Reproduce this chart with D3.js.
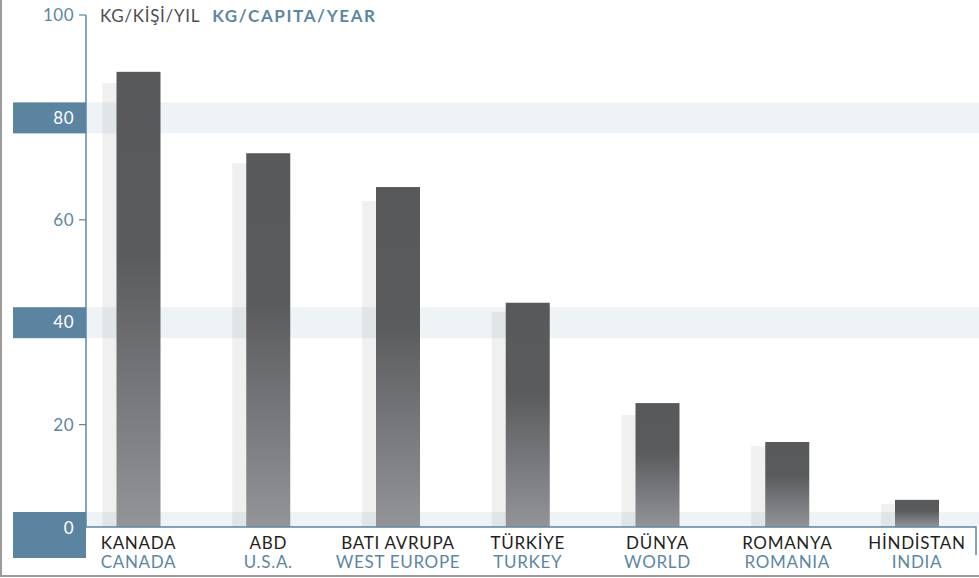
<!DOCTYPE html>
<html>
<head>
<meta charset="utf-8">
<script src="https://cdn.jsdelivr.net/npm/d3@7"></script>
<style>
body { margin: 0; background: #fff; }
svg { display: block; font-family: Lato, "Open Sans", sans-serif; }
</style>
</head>
<body>
<svg id="chart" width="979" height="578"></svg>
<script>
// data (kg per capita per year)
var namesTr = ['KANADA', 'ABD', 'BATI AVRUPA', 'TÜRKİYE', 'DÜNYA', 'ROMANYA', 'HİNDİSTAN'];
var namesEn = ['CANADA', 'U.S.A.', 'WEST EUROPE', 'TURKEY', 'WORLD', 'ROMANIA', 'INDIA'];
var values = [88.9, 73.0, 66.4, 43.8, 24.2, 16.6, 5.3];
var shadowValues = [86.7, 71.1, 63.7, 42.0, 21.9, 15.8, 4.5];
var yTicks = [0, 20, 40, 60, 80, 100];
var boxTicks = [0, 40, 80];

var blue = '#5b87a3';
var svg = d3.select('#chart');

var y = d3.scaleLinear().domain([0, 100]).range([527, 15]);
var x = d3.scalePoint().domain(namesTr).range([138.5, 917]);
var barW = 44;

var defs = svg.append('defs');
var grad = defs.append('linearGradient')
	.attr('id', 'barGrad')
	.attr('x1', 0).attr('y1', 0).attr('x2', 0).attr('y2', 1);
grad.append('stop').attr('offset', 0).attr('stop-color', '#58595b');
grad.append('stop').attr('offset', 0.4).attr('stop-color', '#5a5b5d');
grad.append('stop').attr('offset', 1).attr('stop-color', '#939498');

// outer frame
svg.append('line').attr('x1', 1).attr('x2', 1).attr('y1', 0).attr('y2', 577)
	.style('stroke', '#9b9b9b').style('stroke-width', 2);
svg.append('line').attr('x1', 0).attr('x2', 979).attr('y1', 576).attr('y2', 576)
	.style('stroke', '#9b9b9b').style('stroke-width', 2);

// shadow bars
svg.append('g').selectAll('rect')
	.data(shadowValues)
	.enter().append('rect')
	.attr('x', function(d, i) { return x(namesTr[i]) - barW / 2 - 14; })
	.attr('width', barW)
	.attr('y', function(d) { return y(d); })
	.attr('height', function(d) { return y(0) - y(d); })
	.style('fill', '#f0f0f0');

// light bands
svg.append('g').selectAll('rect')
	.data(boxTicks)
	.enter().append('rect')
	.attr('x', 86)
	.attr('width', 893)
	.attr('y', function(d) { return y(d) - 15; })
	.attr('height', function(d) { return d == 0 ? 15 : 31; })
	.style('fill', blue)
	.style('fill-opacity', 0.1);

// main bars
svg.append('g').selectAll('rect')
	.data(values)
	.enter().append('rect')
	.attr('x', function(d, i) { return x(namesTr[i]) - barW / 2; })
	.attr('width', barW)
	.attr('y', function(d) { return y(d); })
	.attr('height', function(d) { return y(0) - y(d); })
	.style('fill', 'url(#barGrad)');

// blue boxes on the axis
svg.append('g').selectAll('rect')
	.data(boxTicks)
	.enter().append('rect')
	.attr('x', 13)
	.attr('width', 73)
	.attr('y', function(d) { return y(d) - 15; })
	.attr('height', function(d) { return d == 0 ? 46 : 31; })
	.style('fill', '#5b84a0');

// y axis
svg.append('line').attr('x1', 86).attr('x2', 86).attr('y1', y(100)).attr('y2', y(0))
	.style('stroke', blue).style('stroke-width', 1.5);
var tick = svg.append('g').selectAll('g')
	.data(yTicks)
	.enter().append('g');
tick.filter(function(d) { return boxTicks.indexOf(d) < 0; })
	.append('line')
	.attr('x1', 79).attr('x2', 86)
	.attr('y1', function(d) { return y(d); })
	.attr('y2', function(d) { return y(d); })
	.style('stroke', blue).style('stroke-width', 1.2);
tick.append('text')
	.attr('x', 74)
	.attr('y', function(d) { return y(d) + (d == 0 ? 1 : 0); })
	.attr('dy', '0.36em')
	.style('text-anchor', 'end')
	.style('font-size', '17px')
	.style('letter-spacing', '0.5px')
	.style('fill', function(d) { return boxTicks.indexOf(d) < 0 ? blue : '#fff'; })
	.text(function(d) { return d; });

// baseline
svg.append('path')
	.attr('d', 'M86,' + y(0) + 'H976V555')
	.style('fill', 'none')
	.style('stroke', blue).style('stroke-width', 1.5);

// unit title
var title = svg.append('text').attr('x', 100).attr('y', 22)
	.style('font-size', '17px').style('letter-spacing', '0.7px');
title.append('tspan').text('KG/KİŞİ/YIL').style('fill', '#4d4d4f');
title.append('tspan').attr('dx', 12).text('KG/CAPITA/YEAR')
	.style('fill', blue).style('font-weight', 'bold').style('letter-spacing', '1.6px');

// category labels
var lab = svg.append('g').selectAll('g')
	.data(namesTr)
	.enter().append('g');
lab.append('text')
	.attr('x', function(d) { return x(d); })
	.attr('y', 549)
	.style('text-anchor', 'middle')
	.style('font-size', '17px')
	.style('letter-spacing', '0.7px')
	.style('fill', '#231f20')
	.text(function(d) { return d; });
lab.append('text')
	.attr('x', function(d) { return x(d); })
	.attr('y', 568)
	.style('text-anchor', 'middle')
	.style('font-size', '17px')
	.style('letter-spacing', '0.7px')
	.style('fill', blue)
	.text(function(d, i) { return namesEn[i]; });
</script>
</body>
</html>
